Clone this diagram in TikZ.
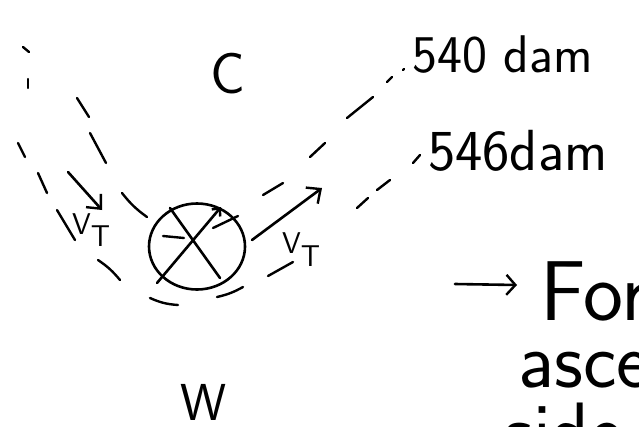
\documentclass[tikz,border=0pt]{standalone}
\usetikzlibrary{arrows.meta,shapes.geometric}
\begin{document}
\begin{tikzpicture}[x=1pt,y=-1pt,
  ink/.style={line width=2.6pt,line cap=round,line join=round},
  dsh/.style={line width=2.4pt,line cap=round},
  barb/.style={-{Straight Barb[length=11pt,width=20pt,line width=2.4pt]}},
  hand/.style={font=\sffamily,inner sep=0pt,anchor=base west}]
\useasboundingbox (0,0) rectangle (639,426);
\clip (0,0) rectangle (639,426);
\fill[white] (0,0) rectangle (639,426);

% symbol: circle with X
\node[ellipse,draw,line width=2.6pt,minimum width=96pt,minimum height=86pt,inner sep=0pt] (obs) at (197,246.5) {};
\draw[ink,-{Straight Barb[length=6pt,width=11pt,line width=2.4pt]}] (157,283) -- (221,207);
\draw[ink] (170,208) -- (220,278);

% outer dashed contour (546 dam)
\draw[dsh] (23,47) -- (29,52);
\draw[dsh] (28,79) -- (28,88);
\draw[dsh] (18,143) -- (25,157);
\draw[dsh] (38,173) -- (47,193);
\draw[dsh] (57,210) -- (75,240);
\draw[dsh] (98,260) to[bend left=8] (120,280);
\draw[dsh] (150,298) to[bend right=10] (178,305);
\draw[dsh] (217,297) to[bend right=8] (243,287);
\draw[dsh] (268,276) -- (293,262);
\draw[dsh] (357,208) -- (368,198);
\draw[dsh] (377,190) -- (390,180);
\draw[dsh] (413,163) -- (420,155);

% inner dashed contour (540 dam)
\draw[dsh] (77,98) -- (89,117);
\draw[dsh] (90,133) -- (106,163);
\draw[dsh] (122,193) to[bend right=8] (147,217);
\draw[dsh] (163,236) -- (184,238);
\draw[dsh] (213,228) -- (238,216);
\draw[dsh] (263,195) -- (283,183);
\draw[dsh] (310,157) -- (325,143);
\draw[dsh] (347,118) -- (373,97);
\draw[dsh] (387,82) -- (392,77);
\draw[dsh] (403,70) -- (404,69);

% velocity arrows
\coordinate (la) at (68,172);
\coordinate (lb) at (102,210);
\draw[ink,barb] (la) -- (lb);
\coordinate (ra) at (252,240);
\coordinate (rb) at (322,188);
\draw[ink,barb] (ra) -- (rb);
\node[hand,font=\sffamily\fontsize{30}{30}\selectfont] (vl) at (72,234) {V\raisebox{-0.4em}{T}};
\node[hand,font=\sffamily\fontsize{30}{30}\selectfont] (vr) at (282,253) {V\raisebox{-0.45em}{T}};

% labels
\node[hand,font=\sffamily\fontsize{53}{53}\selectfont] (h540) at (412,72) {540 dam};
\node[hand,font=\sffamily\fontsize{58}{58}\selectfont] (h546) at (428,170) {546dam};
\node[hand,font=\sffamily\fontsize{58}{58}\selectfont] (c) at (210,93) {C};
\node[hand,font=\sffamily\fontsize{52}{52}\selectfont,anchor=base] (w) at (204,420) {W};

% note
\node[hand,font=\sffamily\fontsize{85}{85}\selectfont] (l1) at (540,320) {Forc};
\coordinate (ar) at (455,284);
\draw[ink,-{Straight Barb[length=9pt,width=20pt,line width=2.4pt]}] (ar) -- (517,285);
\node[hand,font=\sffamily\fontsize{80}{80}\selectfont] (l2) at (518,387) {asce};
\node[hand,font=\sffamily\fontsize{80}{80}\selectfont] (l3) at (504,458) {side};
\end{tikzpicture}
\end{document}
